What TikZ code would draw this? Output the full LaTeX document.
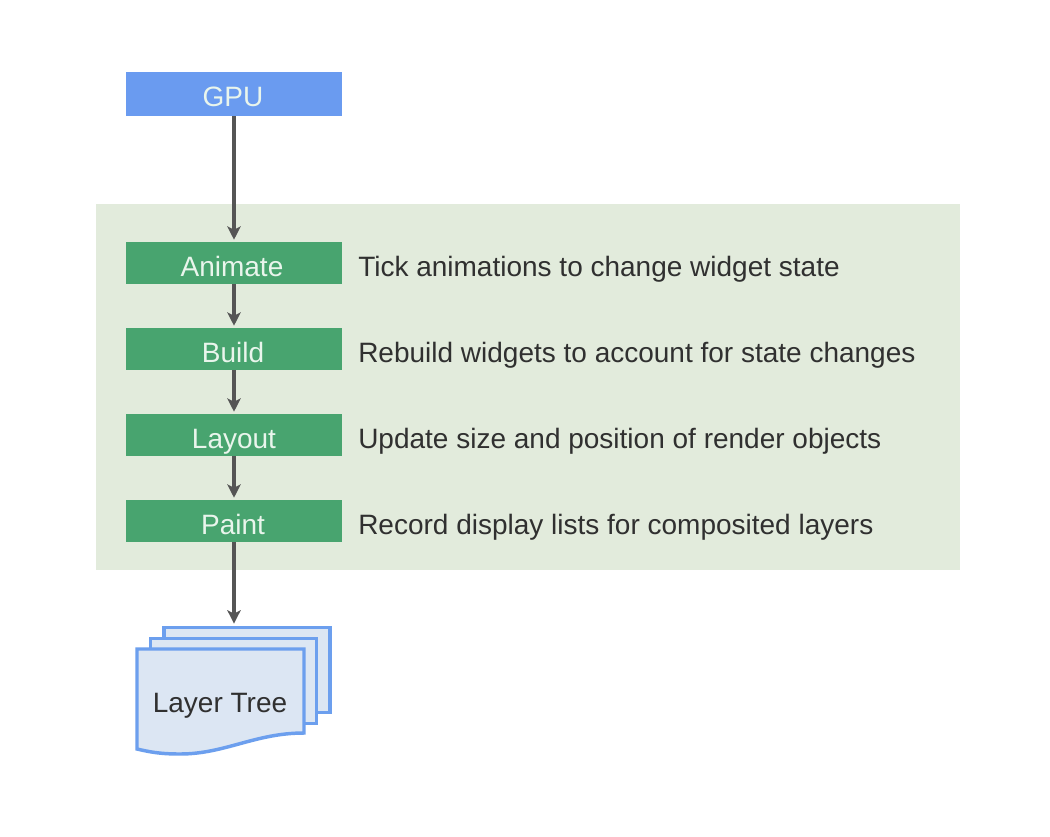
\documentclass[tikz,border=0pt]{standalone}
\usepackage{fontspec}
\setmainfont{Liberation Sans}
\usetikzlibrary{arrows.meta}
\definecolor{panelc}{HTML}{E2EBDC}
\definecolor{greenc}{HTML}{48A46F}
\definecolor{bluec}{HTML}{6A9BF0}
\definecolor{sheetline}{HTML}{6C9FEE}
\definecolor{sheetfill}{HTML}{DCE6F3}
\definecolor{linec}{HTML}{555555}
\definecolor{textc}{HTML}{303030}
\definecolor{labelc}{HTML}{E9F5EC}
\tikzset{
  x=0.75pt,y=-0.75pt,
  labelfont/.style={font=\fontsize{21}{24}\selectfont},
  stage/.style={fill=greenc,draw=none,minimum width=162pt,minimum height=31.5pt,inner sep=0pt},
  gpubox/.style={fill=bluec,draw=none,minimum width=162pt,minimum height=33pt,inner sep=0pt},
  boxlabel/.style={anchor=base,inner sep=0pt,text=labelc,labelfont},
  desc/.style={anchor=base west,inner sep=0pt,text=textc,labelfont},
  sheet/.style={fill=sheetfill,draw=sheetline,line width=2.6pt,minimum width=124.5pt,minimum height=64pt,inner sep=0pt},
  flow/.style={draw=linec,line width=2.5pt,shorten >=1.5pt,-{Stealth[length=10pt,width=10pt,inset=2.5pt]}},
}
\begin{document}
\begin{tikzpicture}
\useasboundingbox (0,0) rectangle (1050,836);
\fill[white] (0,0) rectangle (1050,836);
\fill[panelc] (96,204) rectangle (960,570);
\node[gpubox] (gpu) at (234,94) {};
\node[boxlabel] (gputext) at (233,106) {GPU};
\node[stage] (animate) at (234,263) {};
\node[boxlabel] (animatetext) at (232,276) {Animate};
\node[stage] (build) at (234,349) {};
\node[boxlabel] (buildtext) at (233,362) {Build};
\node[stage] (layout) at (234,435) {};
\node[boxlabel] (layouttext) at (234,448) {Layout};
\node[stage] (paint) at (234,521) {};
\node[boxlabel] (painttext) at (233,534) {Paint};
\node[desc] (d1) at (358,276) {Tick animations to change widget state};
\node[desc] (d2) at (358,362) {Rebuild widgets to account for state changes};
\node[desc] (d3) at (358,448) {Update size and position of render objects};
\node[desc] (d4) at (358,534) {Record display lists for composited layers};
\node[sheet] (back) at (247,670) {};
\node[sheet] (middle) at (233.5,681) {};
\draw[fill=sheetfill,draw=sheetline,line width=2.6pt,line join=miter]
  (137,649) -- (304,649) -- (304,733)
  .. controls (255,733) and (225,754) .. (180,754)
  .. controls (160,754) and (150,752) .. (137,749) -- cycle;
\node[anchor=base,inner sep=0pt,text=textc,labelfont] (tree) at (220,712) {Layer Tree};
\draw[flow] (gpu) -- (animate);
\draw[flow] (animate) -- (build);
\draw[flow] (build) -- (layout);
\draw[flow] (layout) -- (paint);
\draw[flow] (paint) -- (paint.south |- back.north);
\end{tikzpicture}
\end{document}
